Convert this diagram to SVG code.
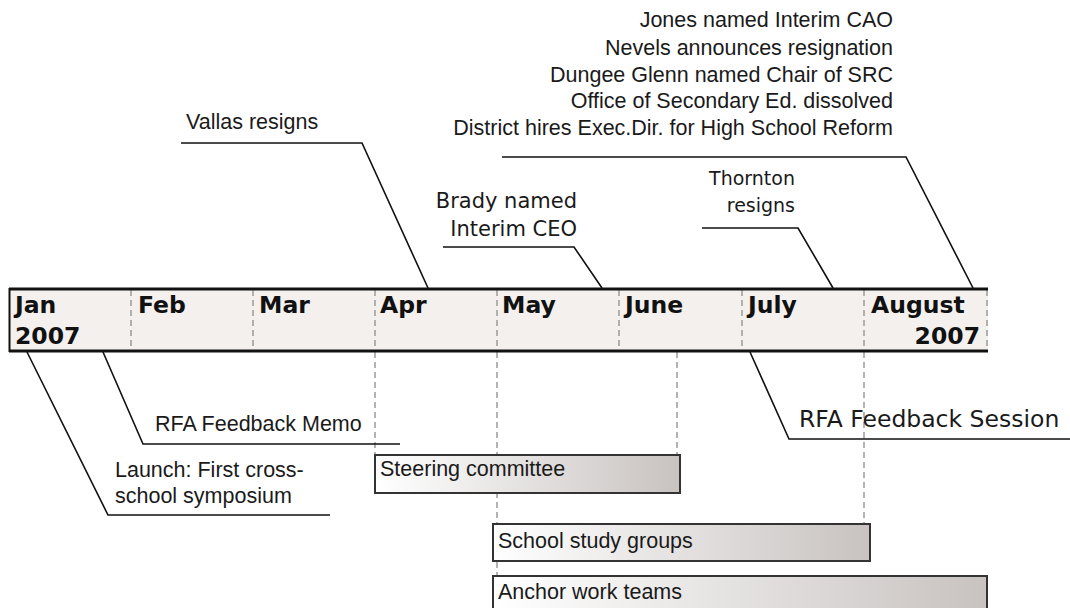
<svg xmlns="http://www.w3.org/2000/svg" width="1070" height="608" viewBox="0 0 1070 608">
<style>
.lbl{font-family:"Liberation Sans",Arial,sans-serif;font-size:21.5px;fill:#1a1a1a}
.vlbl{font-family:"DejaVu Sans",Verdana,sans-serif;fill:#1a1a1a}
.mon{font-family:"DejaVu Sans",Verdana,sans-serif;font-weight:bold;font-size:23.5px;fill:#111}
.lead{fill:none;stroke:#111;stroke-width:1.6}
.grid{fill:none;stroke:#9a9a9a;stroke-width:1.5;stroke-dasharray:6 4}
.box{stroke:#333;stroke-width:2;fill:url(#g)}
</style>
<defs>
<linearGradient id="g" x1="0" y1="0" x2="1" y2="0">
<stop offset="0" stop-color="#ffffff"/>
<stop offset="1" stop-color="#c8c3c1"/>
</linearGradient>
</defs>
<rect width="1070" height="608" fill="#fff"/>

<g id="guides">
<line class="grid" x1="375" y1="352" x2="375" y2="455"/>
<line class="grid" x1="497" y1="352" x2="497" y2="576"/>
<line class="grid" x1="677" y1="352" x2="677" y2="455"/>
<line class="grid" x1="864" y1="352" x2="864" y2="524"/>
</g>

<g id="timeline">
<rect x="9" y="289" width="979" height="62" fill="#f3f0ee"/>
<line class="grid" x1="131" y1="290" x2="131" y2="350"/>
<line class="grid" x1="253" y1="290" x2="253" y2="350"/>
<line class="grid" x1="375" y1="290" x2="375" y2="350"/>
<line class="grid" x1="497" y1="290" x2="497" y2="350"/>
<line class="grid" x1="619" y1="290" x2="619" y2="350"/>
<line class="grid" x1="742" y1="290" x2="742" y2="350"/>
<line class="grid" x1="864" y1="290" x2="864" y2="350"/>
<line class="grid" x1="987" y1="290" x2="987" y2="350"/>
<line x1="9" y1="289" x2="988" y2="289" stroke="#111" stroke-width="3"/>
<line x1="9" y1="351" x2="988" y2="351" stroke="#111" stroke-width="3"/>
<line x1="9.5" y1="288" x2="9.5" y2="352" stroke="#111" stroke-width="2"/>
<text class="mon" x="15" y="313">Jan</text>
<text class="mon" x="15" y="344">2007</text>
<text class="mon" x="138" y="313">Feb</text>
<text class="mon" x="259" y="313">Mar</text>
<text class="mon" x="380" y="313">Apr</text>
<text class="mon" x="502" y="313">May</text>
<text class="mon" x="625" y="313">June</text>
<text class="mon" x="748" y="313">July</text>
<text class="mon" x="871" y="313">August</text>
<text class="mon" x="980" y="344" text-anchor="end">2007</text>
</g>

<g id="connectors">
<polyline class="lead" points="181,143 362,143 428,288"/>
<polyline class="lead" points="443,247 574,247 602,288"/>
<polyline class="lead" points="702,228 798,228 833,288"/>
<polyline class="lead" points="502,157 906,157 973,288"/>
<polyline class="lead" points="103,352 143,444 400,444"/>
<polyline class="lead" points="27,352 108,515 330,515"/>
<polyline class="lead" points="750,352 789,439 1070,439"/>
</g>

<g id="vallas">
<text class="lbl" x="186" y="129">Vallas resigns</text>
</g>
<g id="brady">
<text class="vlbl" font-size="21" x="577" y="208" text-anchor="end">Brady named</text>
<text class="vlbl" font-size="21" x="577" y="236" text-anchor="end">Interim CEO</text>
</g>
<g id="thornton">
<text class="vlbl" font-size="19" x="795" y="185" text-anchor="end">Thornton</text>
<text class="vlbl" font-size="19" x="795" y="212" text-anchor="end">resigns</text>
</g>
<g id="august-events">
<text class="lbl" x="893" y="27" text-anchor="end">Jones named Interim CAO</text>
<text class="lbl" x="893" y="55" text-anchor="end">Nevels announces resignation</text>
<text class="lbl" x="893" y="82" text-anchor="end">Dungee Glenn named Chair of SRC</text>
<text class="lbl" x="893" y="108" text-anchor="end">Office of Secondary Ed. dissolved</text>
<text class="lbl" x="893" y="135" text-anchor="end">District hires Exec.Dir. for High School Reform</text>
</g>
<g id="memo">
<text class="lbl" x="155" y="431">RFA Feedback Memo</text>
</g>
<g id="launch">
<text class="lbl" x="115" y="477">Launch: First cross-</text>
<text class="lbl" x="115" y="503">school symposium</text>
</g>
<g id="session">
<text class="vlbl" font-size="23.5" x="799" y="427">RFA Feedback Session</text>
</g>

<g id="steering">
<rect class="box" x="375" y="455" width="305" height="38"/>
<text class="lbl" x="380" y="476">Steering committee</text>
</g>
<g id="study">
<rect class="box" x="493" y="524" width="377" height="37"/>
<text class="lbl" x="498" y="548">School study groups</text>
</g>
<g id="anchor">
<rect class="box" x="493" y="576" width="494" height="40"/>
<text class="lbl" x="498" y="599">Anchor work teams</text>
</g>
</svg>
